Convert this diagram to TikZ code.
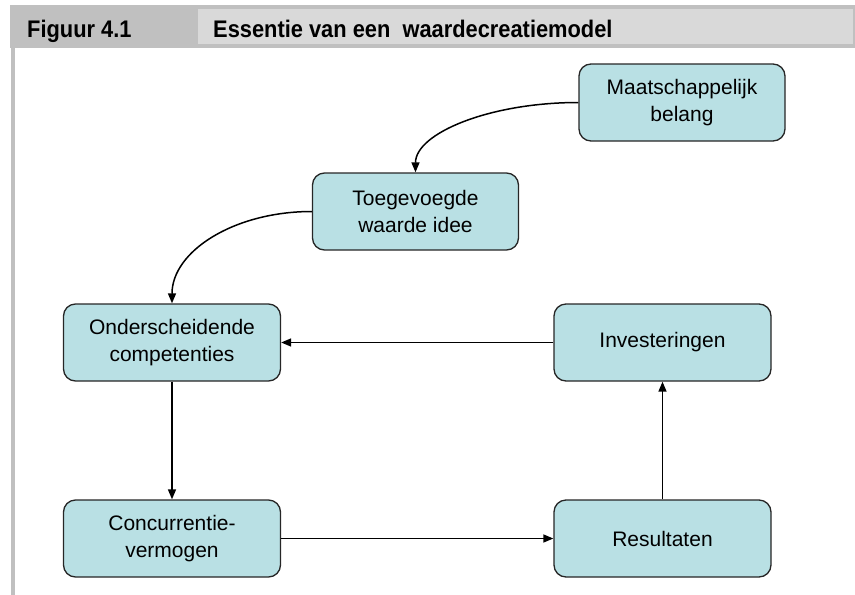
\documentclass[tikz,border=0pt]{standalone}
\usepackage{fontspec}
\setmainfont{Liberation Sans}
\usepackage{tikz}
\usetikzlibrary{positioning,shapes,arrows.meta,calc}
\definecolor{BoxCyan}{RGB}{185,224,228}
\definecolor{HeadDark}{RGB}{192,192,192}
\definecolor{HeadLight}{RGB}{217,217,217}

\begin{document}
\begin{tikzpicture}[
    x=1pt, y=-1pt,
    box/.style={rectangle,rounded corners=12pt,draw=black!85,line width=1.3pt,fill=BoxCyan,minimum width=206pt,minimum height=77pt,align=center,font=\fontsize{21}{27}\selectfont},
    widebox/.style={box,minimum width=217pt},
    arrow/.style={line width=1.5pt,-{Triangle[length=10pt,width=8pt]}},
    headtext/.style={anchor=base west,inner sep=0pt,font=\fontsize{24}{26}\selectfont\bfseries}
]
\useasboundingbox (0,0) rectangle (855,595);

\fill[HeadDark] (10,5) rectangle (855,48);
\fill[HeadLight] (198,9) rectangle (853,44);
\fill[HeadDark] (11,48) rectangle (15,595);
\node[headtext] (fignr) at (27,37) {\scalebox{0.91}[1]{Figuur 4.1}};
\node[headtext] (figtitle) at (213,37) {\scalebox{0.91}[1]{Essentie van een\ \ waardecreatiemodel}};

\node[box] (maatschappij) at (682,102.5) {Maatschappelijk\\belang};
\node[box] (toegevoegd) at (415.5,211.5) {Toegevoegde\\waarde idee};
\node[widebox] (competenties) at (172,342.5) {Onderscheidende\\competenties};
\node[widebox] (investeringen) at (662.5,342.5) {Investeringen};
\node[widebox] (concurrentie) at (172,538.5) {Concurrentie-\\vermogen};
\node[widebox] (resultaten) at (662.5,538.5) {Resultaten};

\draw[arrow] (maatschappij.west) .. controls +(-89,0) and +(0,-39) .. (toegevoegd.north);
\draw[arrow] (toegevoegd.west) .. controls +(-78,0) and +(0,-52) .. (competenties.north);
\draw[arrow] (investeringen) -- (competenties);
\draw[arrow] (competenties) -- (concurrentie);
\draw[arrow] (concurrentie) -- (resultaten);
\draw[arrow] (resultaten) -- (investeringen);
\end{tikzpicture}
\end{document}
